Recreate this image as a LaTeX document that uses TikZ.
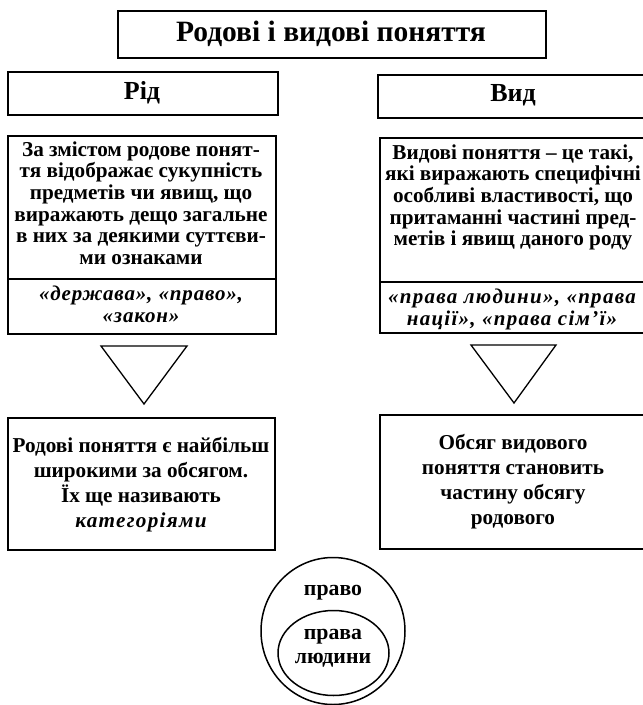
\documentclass[tikz,border=0pt]{standalone}
\usepackage{fontspec}
\setmainfont{Liberation Serif}
\newfontfamily\spacedit[LetterSpace=4]{Liberation Serif}
\newfontfamily\widerit[LetterSpace=6]{Liberation Serif}
\usetikzlibrary{shapes.geometric}
\begin{document}
\begin{tikzpicture}[x=1pt,y=-1pt,
  box/.style={draw, line width=1.8pt, inner sep=0pt},
  tri/.style={draw, line width=1.3pt, line join=miter},
  ring/.style={draw, line width=1.5pt},
  ttl/.style={font=\bfseries\fontsize{29.5}{32}\selectfont},
  hdr/.style={font=\bfseries\fontsize{26}{28}\selectfont},
  body/.style={font=\bfseries\fontsize{21.2}{21.7}\selectfont, align=center, inner sep=0pt},
  ex/.style={font=\spacedit\bfseries\itshape\fontsize{21}{22}\selectfont, align=center, inner sep=0pt},
  low/.style={font=\bfseries\fontsize{21.2}{25}\selectfont, align=center, inner sep=0pt},
  ctext/.style={font=\bfseries\fontsize{21.8}{24.5}\selectfont, align=center, inner sep=0pt}]
\useasboundingbox (0,0) rectangle (643,705);
\fill[white] (0,0) rectangle (643,705);
% title
\node[box, anchor=north west, minimum width=428pt, minimum height=47pt] (title) at (117,10) {};
\node[ttl] (titletext) at (331,33.5) {Родові і видові поняття};
% headers
\node[box, anchor=north west, minimum width=270pt, minimum height=43pt] (rid) at (7,71) {};
\node[hdr] (ridtext) at (142,92.5) {Рід};
\node[box, anchor=north west, minimum width=272pt, minimum height=43pt] (vyd) at (377,74) {};
\node[hdr] (vydtext) at (513,95.5) {Вид};
% left content
\node[box, anchor=north west, minimum width=268pt, minimum height=143pt] (lc) at (7,135) {};
\node[box, anchor=north west, minimum width=268pt, minimum height=55pt] (lex) at (7,278) {};
\node[body] (lctext) at (141,203) {За змістом родове понят-\\тя відображає сукупність\\предметів чи явищ, що\\виражають дещо загальне\\в них за деякими суттєви-\\ми ознаками};
\node[ex] (lextext) at (141,304.5) {«держава», «право»,\\«закон»};
% right content
\node[box, anchor=north west, minimum width=270pt, minimum height=144pt] (rc) at (379,137) {};
\node[box, anchor=north west, minimum width=270pt, minimum height=51pt] (rex) at (379,281) {};
\node[body] (rctext) at (513,197.5) {Видові поняття – це такі,\\які виражають специфічні\\особливі властивості, що\\притаманні частині пред-\\метів і явищ даного роду};
\node[ex, font=\widerit\bfseries\itshape\fontsize{21}{22}\selectfont] (rextext) at (512,309.5) {«права людини», «права\\нації», «права сім’ї»};
% triangles
\draw[tri] (101,346) -- (187,346) -- (144,404) -- cycle;
\draw[tri] (471,345) -- (556,345) -- (514,403) -- cycle;
% lower boxes
\node[box, anchor=north west, minimum width=267pt, minimum height=132pt] (lb) at (7,417) {};
\node[low] (lbtext) at (141,485) {Родові поняття є найбільш\\широкими за обсягом.\\Їх ще називають\\{\widerit\itshape категоріями}};
\node[box, anchor=north west, minimum width=270pt, minimum height=134pt] (rb) at (379,414) {};
\node[low] (rbtext) at (513,481.5) {Обсяг видового\\поняття становить\\частину обсягу\\родового};
% ellipses
\node[ring, ellipse, minimum width=144pt, minimum height=147pt, inner sep=0pt] (outer) at (333,631) {};
\node[ring, ellipse, minimum width=111pt, minimum height=85pt, inner sep=0pt] (inner) at (333.5,653) {};
\node[ctext] (pravo) at (333,593) {право};
\node[ctext] (pravalyud) at (333,648) {права\\людини};
\end{tikzpicture}
\end{document}
